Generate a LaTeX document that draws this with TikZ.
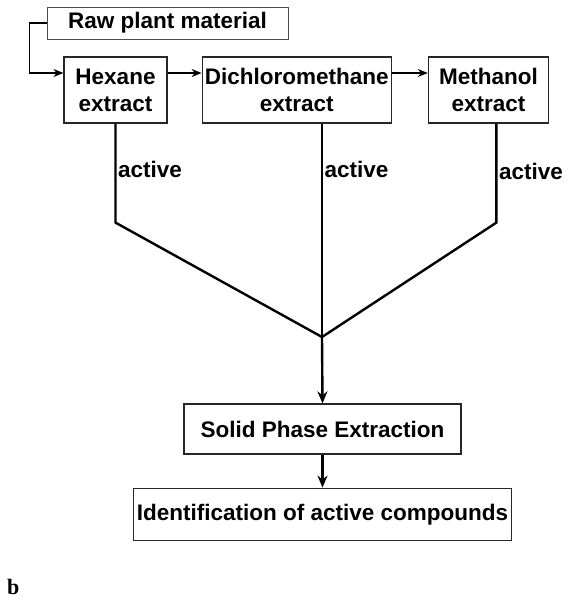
\documentclass[tikz,border=0pt]{standalone}
\usepackage{fontspec}
\setmainfont{Liberation Sans}
\newfontfamily\panelfont{Liberation Serif}
\usetikzlibrary{arrows, arrows.meta, calc, positioning}
\tikzstyle{stage} = [rectangle, draw=black!85, line width=1.2pt, inner sep=0pt, align=center, font=\fontsize{22.5}{27}\selectfont\bfseries]
\tikzstyle{arrow} = [line width=1.3pt, ->, >={Stealth[length=10pt, width=8pt]}]
\tikzstyle{branch} = [line width=2.4pt]
\tikzstyle{down} = [line width=2.4pt, ->, >={Stealth[length=12pt, width=10pt]}]
\tikzstyle{tag} = [font=\fontsize{22.5}{27}\selectfont\bfseries, inner sep=1.5pt]

\begin{document}
\begin{tikzpicture}[x=1pt, y=1pt, node distance = 34pt]
	\useasboundingbox (0,0) rectangle (569,-602);
	\node (Raw) [stage, draw=black!70, line width=0.9pt, minimum width=241pt, minimum height=32pt] at (167.5,-23) {Raw plant material};
	\node (Hexane) [stage, minimum width=103pt, minimum height=66pt] at (115.5,-90) {Hexane\\extract};
	\node (DCM) [stage, minimum width=189pt, minimum height=66pt, right = 34pt of Hexane] {Dichloromethane\\extract};
	\node (Methanol) [stage, minimum width=120pt, minimum height=66pt, right = 36pt of DCM] {Methanol\\extract};
	\coordinate (Join) at (322,-337);
	\node (SPE) [stage, minimum width=277pt, minimum height=50pt] at (322.5,-429) {Solid Phase Extraction};
	\node (Ident) [stage, minimum width=378pt, minimum height=52pt, below = 33pt of SPE] {Identification of active compounds};
	\node (Panel) [anchor=base west, inner sep=0pt, font=\panelfont\bfseries\fontsize{22}{26}\selectfont] at (7,-594) {b};
	\draw [arrow] (Raw.west) -- ++(-17,0) |- ([yshift=17pt]Hexane.west);
	\draw [arrow] ([yshift=17pt]Hexane.east) -- ([yshift=17pt]DCM.west);
	\draw [arrow] ([yshift=17pt]DCM.east) -- ([yshift=17pt]Methanol.west);
	\draw [branch] (Hexane.south) -- node (ActHex) [tag, pos=0.465, right] {active} ++(0,-99) -- (Join);
	\draw [branch] (DCM.south -| Join) -- node (ActDCM) [tag, pos=0.215, right] {active} (Join);
	\draw [branch] ([xshift=8pt]Methanol.south) -- node (ActMeth) [tag, pos=0.485, right] {active} ++(0,-99) -- (Join);
	\draw [down] (Join) -- (SPE.north);
	\draw [down] (SPE) -- (Ident);
\end{tikzpicture}
\end{document}
